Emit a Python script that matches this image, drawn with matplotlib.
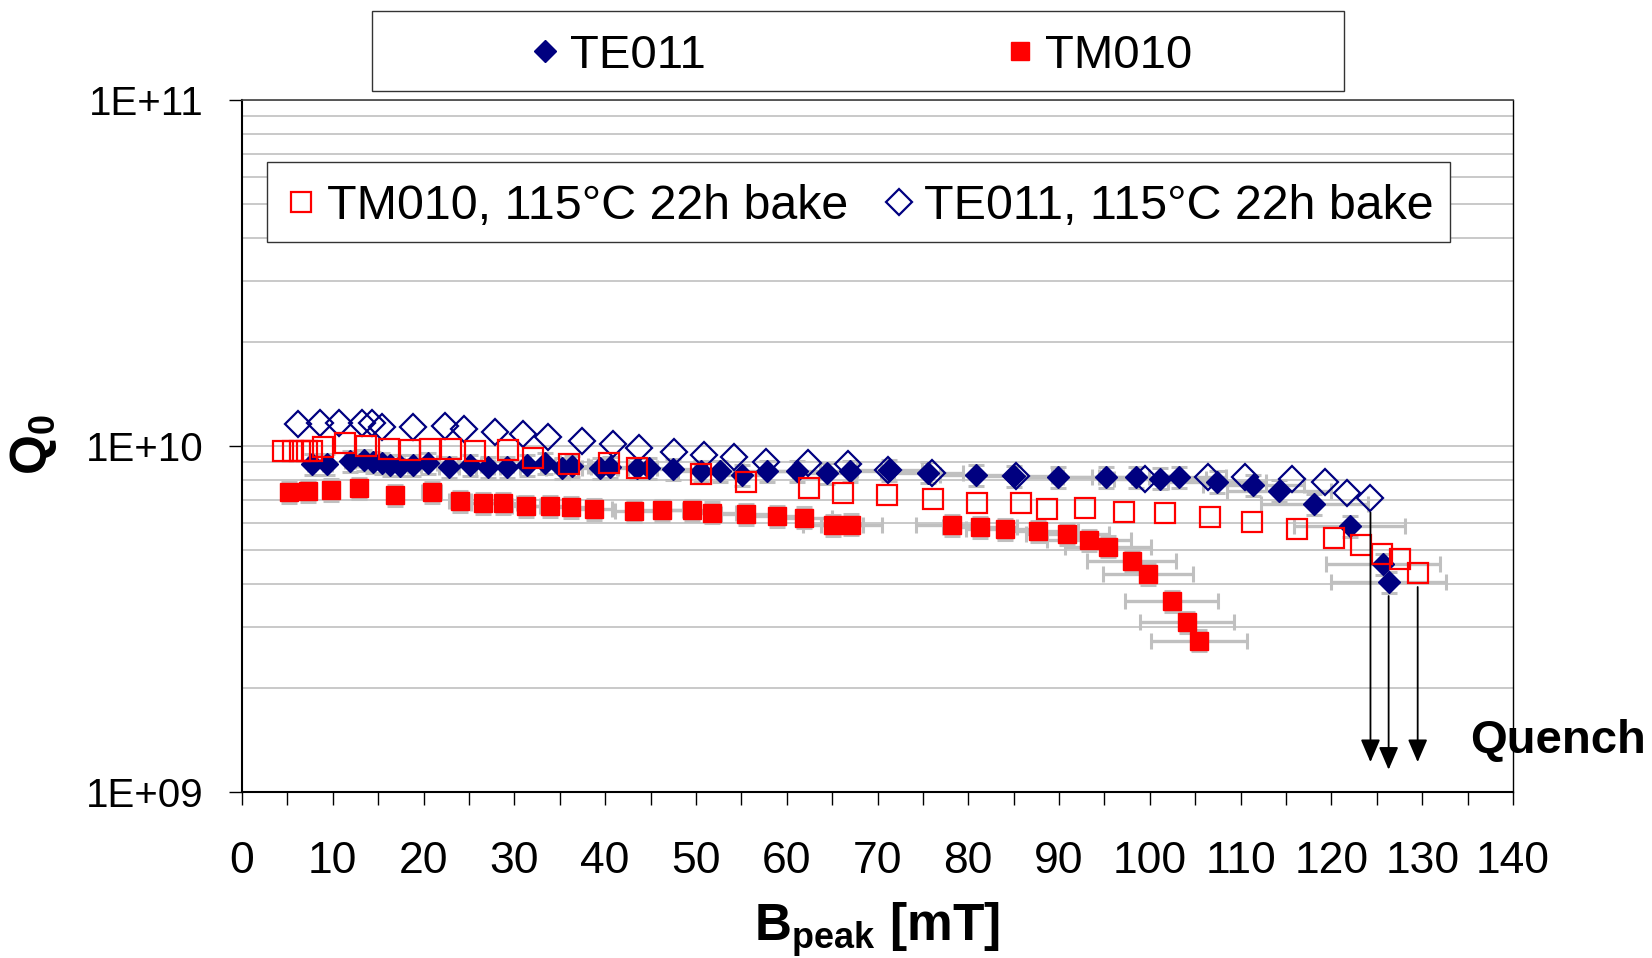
import matplotlib
matplotlib.use("Agg")
import matplotlib.pyplot as plt
from matplotlib.patches import Rectangle
from matplotlib.ticker import MultipleLocator, LogLocator, NullFormatter
import numpy as np

plt.rcParams['font.family'] = ['Liberation Sans', 'DejaVu Sans']
plt.rcParams['mathtext.fontset'] = 'custom'
plt.rcParams['mathtext.rm'] = 'Liberation Sans'
plt.rcParams['mathtext.bf'] = 'Liberation Sans:bold'
plt.rcParams['mathtext.it'] = 'Liberation Sans:italic'

# TE011, unbaked (B_peak in mT, Q0)
te011_b = [7.7, 9.4, 11.9, 13.4, 14.4, 15.4, 16.3, 17.4, 18.8, 20.5, 22.8, 25.1,
           27.1, 29.2, 31.4, 33.4, 35.2, 36.3, 39.4, 40.5, 43.5, 44.8, 47.5, 50.6,
           52.6, 55.1, 57.8, 61.1, 64.4, 67.0, 71.3, 75.6, 80.9, 85.0, 89.9, 95.2,
           98.5, 101.1, 103.2, 107.4, 111.4, 114.2, 118.1, 122.0, 125.7, 126.3]
te011_q = [8.85, 8.85, 9.06, 9.12, 9.0, 8.92, 8.81, 8.78, 8.81, 8.92, 8.71, 8.81,
           8.71, 8.71, 8.81, 8.92, 8.63, 8.77, 8.63, 8.71, 8.63, 8.63, 8.59, 8.44,
           8.44, 8.25, 8.44, 8.44, 8.34, 8.44, 8.5, 8.38, 8.25, 8.19, 8.12, 8.12,
           8.12, 8.05, 8.12, 7.89, 7.71, 7.43, 6.78, 5.87, 4.56, 4.05]

# TM010, unbaked
tm010_b = [5.2, 7.3, 9.8, 12.9, 16.8, 20.9, 24.0, 26.6, 28.8, 31.3, 33.9, 36.2,
           38.8, 43.2, 46.3, 49.6, 51.8, 55.5, 58.9, 61.9, 65.1, 67.1, 78.2, 81.3,
           84.0, 87.7, 90.9, 93.3, 95.4, 98.0, 99.8, 102.4, 104.1, 105.4]
tm010_q = [7.35, 7.43, 7.48, 7.55, 7.21, 7.36, 6.95, 6.83, 6.83, 6.72, 6.72, 6.65,
           6.58, 6.50, 6.53, 6.53, 6.42, 6.36, 6.28, 6.21, 5.91, 5.93, 5.91, 5.82,
           5.74, 5.69, 5.56, 5.35, 5.12, 4.66, 4.26, 3.57, 3.09, 2.74]

# TM010 after 115 C / 22 h bake
tm010_bake_b = [4.55, 5.65, 6.39, 7.12, 7.67, 8.96, 11.35, 13.7, 16.2, 18.5, 20.7,
                23.0, 25.7, 29.3, 32.1, 36.0, 40.4, 43.5, 50.6, 55.5, 62.4, 66.2,
                71.0, 76.1, 81.0, 85.8, 88.7, 92.9, 97.1, 101.7, 106.6, 111.3,
                116.2, 120.3, 123.3, 125.6, 127.5, 129.5]
tm010_bake_q = [9.67, 9.67, 9.67, 9.67, 9.70, 9.95, 10.2, 10.0, 9.77, 9.72, 9.77,
                9.77, 9.70, 9.72, 9.21, 8.85, 8.92, 8.63, 8.28, 7.85, 7.55, 7.33,
                7.22, 7.03, 6.83, 6.83, 6.58, 6.64, 6.46, 6.39, 6.23, 6.04,
                5.74, 5.41, 5.17, 4.87, 4.70, 4.30]

# TE011 after 115 C / 22 h bake
te011_bake_b = [6.2, 8.6, 10.7, 13.2, 14.3, 15.4, 18.8, 22.4, 24.5, 27.9, 31.0,
                33.7, 37.5, 40.9, 43.7, 47.6, 50.9, 54.2, 57.7, 62.3, 66.8, 71.2,
                76.0, 85.3, 99.5, 106.4, 110.5, 115.7, 119.3, 121.7, 124.3]
te011_bake_q = [11.59, 11.68, 11.68, 11.68, 11.68, 11.38, 11.34, 11.43, 11.17,
                11.0, 10.81, 10.59, 10.36, 10.13, 9.9, 9.63, 9.42, 9.27, 9.01,
                8.92, 8.87, 8.53, 8.38, 8.19, 8.05, 8.15, 8.15, 8.01, 7.89, 7.30,
                7.06]

# relative measurement uncertainties
b_err = 0.05
q_err = 0.07

# quench arrows end just above the lower axis
quench_tip = [1.22e9, 1.16e9, 1.22e9]

ytick_vals = [1e9, 1e10, 1e11]
ytick_labels = ['1E+09', '1E+10', '1E+11']

navy = '#000080'
red = '#ff0000'
grey = '#c0c0c0'

te011_b = np.array(te011_b)
te011_q = np.array(te011_q) * 1e9
tm010_b = np.array(tm010_b)
tm010_q = np.array(tm010_q) * 1e9
tm010_bake_b = np.array(tm010_bake_b)
tm010_bake_q = np.array(tm010_bake_q) * 1e9
te011_bake_b = np.array(te011_bake_b)
te011_bake_q = np.array(te011_bake_q) * 1e9

fig = plt.figure(figsize=(16.52, 9.58), dpi=100)
ax = fig.add_axes([0.14649, 0.17328, 0.76937, 0.72234])

# error bars of the unbaked runs
for b, q in [(te011_b, te011_q), (tm010_b, tm010_q)]:
    ax.errorbar(b, q, xerr=b * b_err, yerr=q * q_err, fmt='none', ecolor=grey,
                elinewidth=2.4, capsize=5.5, capthick=2.2, zorder=2)

h_te, = ax.plot(te011_b, te011_q, 'D', ms=11.5, mfc=navy, mec=navy, mew=1, zorder=3)
h_tm, = ax.plot(tm010_b, tm010_q, 's', ms=13.5, mfc=red, mec=red, mew=1, zorder=3)
h_teb, = ax.plot(te011_bake_b, te011_bake_q, 'D', ms=13.5, mfc='none', mec=navy,
                 mew=1.6, zorder=4)
h_tmb, = ax.plot(tm010_bake_b, tm010_bake_q, 's', ms=14.5, mfc='none', mec=red,
                 mew=1.6, zorder=5)

# quench arrows below the last point of each run that quenched
for (b, q), tip in zip([(te011_bake_b, te011_bake_q), (te011_b, te011_q),
                        (tm010_bake_b, tm010_bake_q)], quench_tip):
    ax.annotate('', xy=(b[-1], tip), xytext=(b[-1], q[-1] * 0.91),
                arrowprops=dict(arrowstyle='-|>,head_length=1.4,head_width=0.6',
                                color='black', lw=1.3, shrinkA=0, shrinkB=0),
                annotation_clip=False, zorder=6)

ax.set_yscale('log')
ax.set_xlim(0, 140)
ax.set_ylim(1e9, 1e11)
ax.set_yticks(ytick_vals)
ax.set_yticklabels(ytick_labels)
ax.yaxis.set_minor_locator(LogLocator(base=10, subs=np.arange(2, 10)))
ax.yaxis.set_minor_formatter(NullFormatter())
ax.grid(True, which='both', axis='y', color=grey, lw=1.2, zorder=0)
ax.set_axisbelow(True)

ax.xaxis.set_major_locator(MultipleLocator(10))
ax.xaxis.set_minor_locator(MultipleLocator(5))
ax.tick_params(axis='x', which='both', direction='out', length=9.5, width=1,
               pad=26)
ax.tick_params(axis='y', which='major', direction='out', length=9.5, width=1,
               pad=18, labelsize=29)
ax.tick_params(axis='y', which='minor', length=0)
for lab in ax.get_xticklabels():
    lab.set_fontfamily(['Liberation Sans Narrow', 'Liberation Sans'])
    lab.set_fontsize(32)

for side in ['left', 'bottom']:
    ax.spines[side].set_linewidth(1.5)
ax.spines['right'].set_linewidth(1)
ax.spines['top'].set_linewidth(1.2)
ax.spines['top'].set_color('#404040')

fig.text(0.5309, 0.0177, r'$\mathbf{B_{peak}}$ [mT]', fontsize=37,
         fontweight='bold', ha='center', va='baseline')
fig.text(0.02, 0.536, r'$\mathbf{Q_0}$', fontsize=37, rotation=90,
         ha='center', va='center')
fig.text(0.943, 0.2265, 'Quench', fontsize=34, fontweight='bold',
         ha='center', va='center')

# legends with hand-placed frames
fig.legend(handles=[h_te, h_tm], labels=['TE011', 'TM010'], loc='center',
           bbox_to_anchor=(0.5224, 0.9416), ncol=2, frameon=False, fontsize=34,
           handlelength=0.5, handletextpad=0.28, columnspacing=6.4, borderpad=0)
fig.add_artist(Rectangle((372 / 1652, 1 - 90.7 / 958), 972 / 1652, 80 / 958,
                         transform=fig.transFigure, fill=False,
                         edgecolor='#333333', lw=1))
fig.legend(handles=[h_tmb, h_teb],
           labels=['TM010, 115°C 22h bake', 'TE011, 115°C 22h bake'],
           loc='center', bbox_to_anchor=(0.5215, 0.7845), ncol=2, frameon=False,
           fontsize=34.8, handlelength=0.5, handletextpad=0.28,
           columnspacing=0.8, borderpad=0)
fig.add_artist(Rectangle((267 / 1652, 1 - 242 / 958), 1183 / 1652, 80 / 958,
                         transform=fig.transFigure, facecolor='white',
                         edgecolor='#333333', lw=1, zorder=0.5))

fig.savefig('out.png', dpi=100)
